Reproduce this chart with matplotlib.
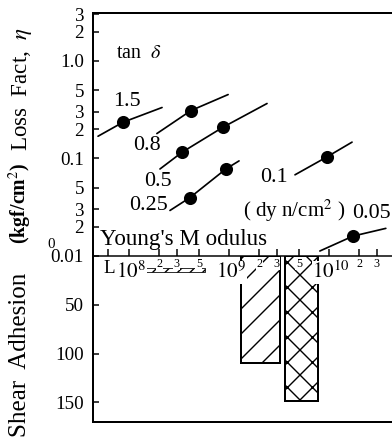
import matplotlib
matplotlib.use('Agg')
import matplotlib.pyplot as plt
import numpy as np

# loss factor curves: (x points, y points, marker points)
curve_labels = ['1.5', '0.8', '0.5', '0.25', '0.1', '0.05']
curve_x = [[4.9e7, 8.7e7, 2.14e8],
           [1.9e8, 4.17e8, 9.8e8],
           [2.04e8, 3.4e8, 8.7e8, 2.4e9],
           [2.57e8, 4.07e8, 9.3e8, 1.26e9],
           [4.57e9, 9.5e9, 1.7e10],
           [8.1e9, 1.74e10, 3.7e10]]
curve_y = [[0.169, 0.235, 0.333],
           [0.18, 0.31, 0.452],
           [0.078, 0.116, 0.209, 0.366],
           [0.0293, 0.0397, 0.078, 0.0944],
           [0.068, 0.1035, 0.147],
           [0.01125, 0.016, 0.0192]]
dot_x = [[8.7e7], [4.17e8], [3.4e8, 8.7e8], [4.07e8, 9.3e8], [9.5e9], [1.74e10]]
dot_y = [[0.235], [0.31], [0.116, 0.209], [0.0397, 0.078], [0.1035], [0.016]]

# shear adhesion bars: x range (dyn/cm2), depth (kgf/cm2)
bar_x0 = [1.35e8, 1.32e9, 3.6e9]
bar_x1 = [5.8e8, 3.2e9, 7.8e9]
bar_top = [12, 0, 0]
bar_depth = [16, 110, 149]
bar_hatch = ['////', '//', 'xx']

loss_ticks = [0.01, 0.02, 0.03, 0.05, 0.1, 0.2, 0.3, 0.5, 1.0, 2, 3]
loss_ticklabels = ['0.01', '2', '3', '5', '0.1', '2', '3', '5', '1.0', '2', '3']
shear_ticks = [50, 100, 150]
mod_ticks = [6.2e7, 1e8, 2e8, 3e8, 5e8, 1e9, 2e9, 3e9, 5e9, 1e10, 2e10, 3e10]

W, H, DPI = 392, 441, 150
PT = 72.0 / DPI  # pixels -> points
plt.rcParams['font.family'] = ['Liberation Serif', 'DejaVu Serif']
plt.rcParams['mathtext.fontset'] = 'stix'
plt.rcParams['hatch.linewidth'] = 1.4 * PT

fig = plt.figure(figsize=(W / DPI, H / DPI), dpi=DPI)


def fx(px):
    return px / W


def fy(py):
    return 1 - py / H


left, right = fx(93), 1.0
ax = fig.add_axes([left, fy(256), right - left, fy(13) - fy(256)])
ax2 = fig.add_axes([left, fy(422), right - left, fy(256) - fy(422)])

xlim = (10 ** 7.64, 10 ** 10.63)
for a in (ax, ax2):
    a.set_xscale('log')
    a.set_xlim(*xlim)
    a.spines['right'].set_visible(False)
    for s in a.spines.values():
        s.set_linewidth(2.0 * PT)
    a.patch.set_alpha(0)

# upper: loss factor
ax.set_yscale('log')
ax.set_ylim(0.01, 3.1)
ax.set_yticks(loss_ticks)
ax.set_yticklabels(loss_ticklabels)
ax.yaxis.set_minor_locator(matplotlib.ticker.NullLocator())
ax.xaxis.set_minor_locator(matplotlib.ticker.NullLocator())
ax.set_xticks(mod_ticks)
ax.set_xticklabels([])
ax.tick_params(axis='y', direction='in', length=6 * PT, width=1.5 * PT,
               labelsize=19 * PT, pad=9 * PT)
ax.tick_params(axis='x', direction='in', length=7 * PT, width=1.5 * PT)
ax.spines['bottom'].set_linewidth(1.5 * PT)

for xs, ys, dx, dy in zip(curve_x, curve_y, dot_x, dot_y):
    ax.plot(xs, ys, color='black', lw=1.7 * PT, solid_capstyle='round')
    ax.plot(dx, dy, 'o', color='black', ms=11 * PT)

# lower: shear adhesion
ax2.set_ylim(170, 0)
ax2.set_yticks(shear_ticks)
ax2.xaxis.set_minor_locator(matplotlib.ticker.NullLocator())
ax2.set_xticks([])
ax2.spines['top'].set_visible(False)
ax2.tick_params(axis='y', direction='in', length=6 * PT, width=1.5 * PT,
                labelsize=19 * PT, pad=9 * PT)

for i, (x0, x1, t, d, h) in enumerate(zip(bar_x0, bar_x1, bar_top, bar_depth, bar_hatch)):
    ax2.bar(x0, d - t, width=x1 - x0, bottom=t, align='edge', fill=False,
            hatch=h, edgecolor='black', linewidth=(0.8 if i == 0 else 2.0) * PT)

# modulus tick labels (below the axis line)
for v, lab in [(1e8, '8'), (1e9, '9'), (1e10, '10')]:
    ax2.text(v * 1.05, 17, r'$10^{%s}$' % lab, ha='center', va='center',
             fontsize=21 * PT, zorder=5,
             bbox=dict(fc='white', ec='none', pad=0.3))
for v, lab in [(2e8, '2'), (3e8, '3'), (5e8, '5'), (2e9, '2'), (3e9, '3'),
               (5e9, '5'), (2e10, '2'), (3e10, '3')]:
    ax2.text(v, 8, lab, ha='center', va='center', fontsize=12 * PT, zorder=5,
             bbox=dict(fc='white', ec='none', pad=0.3))
ax2.text(6.4e7, 13, 'L', ha='center', va='center', fontsize=19 * PT)

# curve labels
lab_pos = [(127, 101), (147, 146), (158, 181), (149, 205), (274, 178), (352, 213)]
for lab, (px, py) in zip(curve_labels, lab_pos):
    ha = 'left' if lab == '0.05' else 'center'
    fig.text(fx(px), fy(py), lab, ha=ha, va='center', fontsize=22 * PT)

fig.text(fx(139), fy(53), r'tan  $\delta$', ha='center', va='center', fontsize=20 * PT)
fig.text(fx(294), fy(211), r'( dy n/cm$^2$ )', ha='center', va='center', fontsize=21 * PT)
fig.text(fx(100), fy(239), "Young's M odulus", ha='left', va='center', fontsize=23 * PT)
fig.text(fx(51), fy(245), '0', ha='center', va='center', fontsize=15 * PT)

# axis titles
fig.text(fx(22), fy(89), r'Loss  Fact,  $\eta$', rotation=90, ha='center', va='center',
         fontsize=23 * PT)
fig.text(fx(20), fy(203), r'(kgf/cm$^2$)', rotation=90, ha='center', va='center',
         fontsize=20 * PT, fontweight='bold')
fig.text(fx(20), fy(355), 'Shear  Adhesion', rotation=90, ha='center', va='center',
         fontsize=25 * PT)

fig.savefig('out.png', dpi=DPI)
